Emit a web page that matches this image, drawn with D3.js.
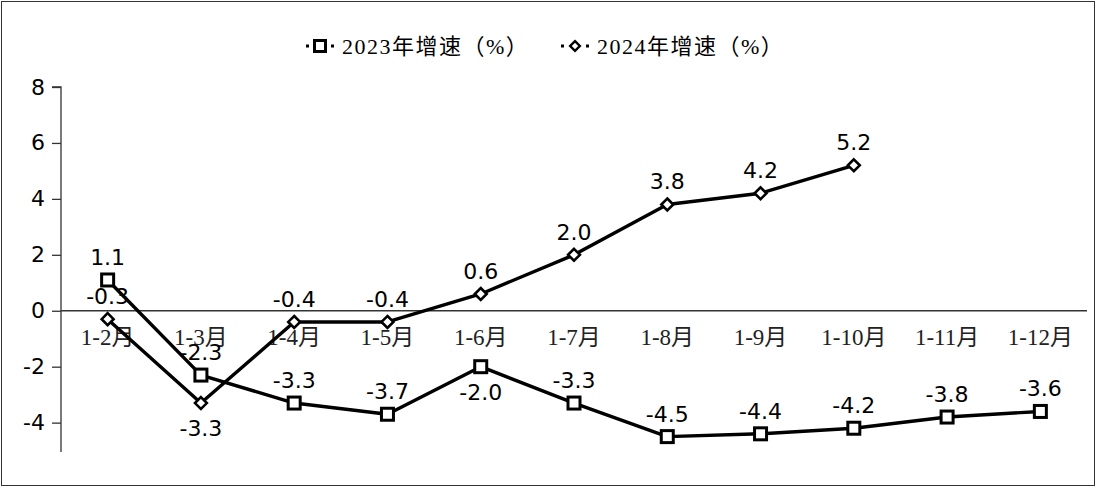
<!DOCTYPE html>
<html>
<head>
<meta charset="utf-8">
<script src="https://cdn.jsdelivr.net/npm/d3@7"></script>
<style>
  body { margin: 0; background: #fff; }
  svg { display: block; }
</style>
</head>
<body>
<div id="chart"></div>
<script>
const categories = ['1-2月', '1-3月', '1-4月', '1-5月', '1-6月', '1-7月', '1-8月', '1-9月', '1-10月', '1-11月', '1-12月'];
const growth2023 = [1.1, -2.3, -3.3, -3.7, -2.0, -3.3, -4.5, -4.4, -4.2, -3.8, -3.6];
const growth2024 = [-0.3, -3.3, -0.4, -0.4, 0.6, 2.0, 3.8, 4.2, 5.2];
const yTicks = [-4, -2, 0, 2, 4, 6, 8];
const seriesNames = ['2023年增速（%）', '2024年增速（%）'];
// labels drawn below the point instead of above
const below2023 = ['1-6月'];
const below2024 = ['1-3月'];

const W = 1096, H = 488;
const labelFont = '"DejaVu Sans", Verdana, sans-serif';
const catFont = '"Liberation Serif", "Noto Sans CJK SC", serif';
// plain hyphen for negatives, like the original
const fmt = v => d3.format('.1f')(v).replace('\u2212', '-');

const svg = d3.select('#chart').append('svg')
  .attr('width', W).attr('height', H);

svg.append('rect')
  .attr('x', 1.5).attr('y', 1.5)
  .attr('width', W - 3).attr('height', H - 4)
  .attr('fill', 'none').attr('stroke', '#333').attr('stroke-width', 1);

const x = d3.scaleBand().domain(categories).range([61, 1087]);
const y = d3.scaleLinear().domain([-5.05, 8]).range([452, 87]);
const cx = d => x(d) + x.bandwidth() / 2;

// y axis
const yAxis = d3.axisLeft(y).tickValues(yTicks).tickSize(9).tickPadding(7)
  .tickFormat(d => String(d));
const gy = svg.append('g').attr('transform', 'translate(61,0)').call(yAxis);
gy.select('.domain').attr('stroke', '#333').attr('stroke-width', 1.3)
  .attr('d', `M-9,${y(8)}H0V${y(-5.05)}`);
gy.selectAll('.tick line').attr('stroke', '#333').attr('stroke-width', 1.3);
gy.selectAll('.tick text')
  .attr('font-family', labelFont).attr('font-size', 22)
  .attr('fill', '#000');

// zero line
svg.append('line')
  .attr('x1', 61).attr('x2', 1087)
  .attr('y1', y(0)).attr('y2', y(0))
  .attr('stroke', '#333').attr('stroke-width', 1.3);

// category labels
svg.append('g').selectAll('text').data(categories).join('text')
  .attr('x', d => cx(d)).attr('y', y(0) + 34)
  .attr('text-anchor', 'middle')
  .attr('font-family', catFont).attr('font-size', 23)
  .attr('fill', '#222')
  .text(d => d);

const line = d3.line().x(d => cx(d.cat)).y(d => y(d.v));
const d23 = growth2023.map((v, i) => ({cat: categories[i], v}));
const d24 = growth2024.map((v, i) => ({cat: categories[i], v}));

svg.append('path').datum(d23).attr('d', line)
  .attr('fill', 'none').attr('stroke', '#000').attr('stroke-width', 3.4).attr('stroke-linejoin', 'round');
svg.append('path').datum(d24).attr('d', line)
  .attr('fill', 'none').attr('stroke', '#000').attr('stroke-width', 3.4).attr('stroke-linejoin', 'round');

svg.append('g').selectAll('rect').data(d23).join('rect')
  .attr('x', d => cx(d.cat) - 6).attr('y', d => y(d.v) - 6)
  .attr('width', 12).attr('height', 12)
  .attr('fill', '#fff').attr('stroke', '#000').attr('stroke-width', 3);

const diamond = d3.symbol().type(d3.symbolDiamond2).size(90);
svg.append('g').selectAll('path').data(d24).join('path')
  .attr('transform', d => `translate(${cx(d.cat)},${y(d.v)})`)
  .attr('d', diamond)
  .attr('fill', '#fff').attr('stroke', '#000').attr('stroke-width', 2.6);

function valueLabels(data, belowList) {
  svg.append('g').selectAll('text').data(data).join('text')
    .attr('x', d => cx(d.cat))
    .attr('y', d => belowList.includes(d.cat) ? y(d.v) + 33 : y(d.v) - 15)
    .attr('text-anchor', 'middle')
    .attr('font-family', labelFont).attr('font-size', 22)
    .attr('fill', '#000')
    .text(d => fmt(d.v));
}
valueLabels(d23, below2023);
valueLabels(d24, below2024);

// legend
const legend = svg.append('g').attr('transform', 'translate(0,46)');
const items = [
  {x: 320, name: seriesNames[0], type: 'square'},
  {x: 575, name: seriesNames[1], type: 'diamond'}
];
items.forEach(it => {
  const g = legend.append('g').attr('transform', `translate(${it.x},0)`);
  [-14, 11].forEach(dx => {
    g.append('rect').attr('x', dx).attr('y', -1.5).attr('width', 3).attr('height', 3).attr('fill', '#000');
  });
  if (it.type === 'square') {
    g.append('rect').attr('x', -5.5).attr('y', -5.5).attr('width', 11).attr('height', 11)
      .attr('fill', '#fff').attr('stroke', '#000').attr('stroke-width', 3);
  } else {
    g.append('path')
      .attr('d', d3.symbol().type(d3.symbolDiamond2).size(60))
      .attr('fill', '#fff').attr('stroke', '#000').attr('stroke-width', 2.4);
  }
  g.append('text').attr('x', 22).attr('y', 8)
    .attr('font-family', catFont).attr('font-size', 22).attr('letter-spacing', 1.5)
    .attr('fill', '#000')
    .text(it.name);
});
</script>
</body>
</html>
